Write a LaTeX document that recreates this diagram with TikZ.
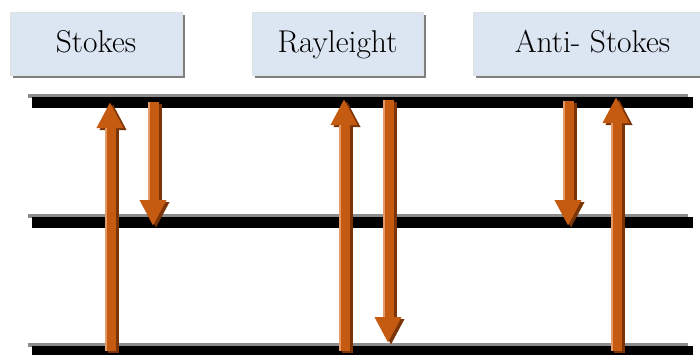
\documentclass[tikz,border=0pt]{standalone}
\usepackage{fontspec}
\usetikzlibrary{arrows.meta,shadows}
\definecolor{boxfill}{HTML}{DCE6F2}
\definecolor{arrowc}{HTML}{C55A11}
\definecolor{arrowdark}{HTML}{7A3408}
\definecolor{arrowlight}{HTML}{E39A68}
\definecolor{levelgray}{HTML}{8C8C8C}
\newcommand\fatarrow[2]{%
  \draw[fatshadow] ([xshift=3pt,yshift=-2pt]#1) -- ([xshift=3pt,yshift=-2pt]#2);
  \draw[fat] (#1) -- (#2);
  \draw[hilite] ([xshift=-4.5pt]#1) -- ([xshift=-4.5pt]#2);}
\begin{document}
\begin{tikzpicture}[x=1pt,y=-1pt,
  labelbox/.style={draw=black!12, line width=1pt, fill=boxfill,
    minimum height=63pt, inner sep=0pt, text height=22pt, text depth=4pt,
    font=\rmfamily\fontsize{31.5}{36}\selectfont,
    drop shadow={shadow xshift=3pt,shadow yshift=-3pt,fill=black!50,opacity=1}},
  fat/.style={draw=arrowc, line width=11pt, -{Triangle[width=25pt,length=26pt]}},
  fatshadow/.style={draw=arrowdark, line width=11pt, -{Triangle[width=25pt,length=26pt]}},
  hilite/.style={draw=arrowlight, line width=2pt, shorten >=26pt}]
\useasboundingbox (0,0) rectangle (700,354);
\clip (0,0) rectangle (700,354);
% labels
\node[labelbox, minimum width=172pt] (stokes) at (96,43.5) {Stokes};
\node[labelbox, minimum width=171pt] (rayleigh) at (337.5,43.5) {Rayleight};
\node[labelbox, minimum width=239pt] (anti) at (592.5,43.5) {Anti- Stokes};
% energy levels
\fill[levelgray] (28,94) rectangle (688,98);
\fill[black] (32,97) rectangle (693,108);
\fill[levelgray] (28,214) rectangle (688,218);
\fill[black] (32,217) rectangle (693,228);
\fill[levelgray] (28,343) rectangle (688,347);
\fill[black] (32,346) rectangle (693,357);
% arrow end points
\coordinate (s1a) at (110,351);
\coordinate (s1b) at (110,102);
\coordinate (s2a) at (153,102);
\coordinate (s2b) at (153,226);
\coordinate (r1a) at (344,351);
\coordinate (r1b) at (344,99);
\coordinate (r2a) at (388,100);
\coordinate (r2b) at (388,343);
\coordinate (a1a) at (568,101);
\coordinate (a1b) at (568,226);
\coordinate (a2a) at (616,351);
\coordinate (a2b) at (616,97);
\fatarrow{s1a}{s1b}
\fatarrow{s2a}{s2b}
\fatarrow{r1a}{r1b}
\fatarrow{r2a}{r2b}
\fatarrow{a1a}{a1b}
\fatarrow{a2a}{a2b}
\end{tikzpicture}
\end{document}
